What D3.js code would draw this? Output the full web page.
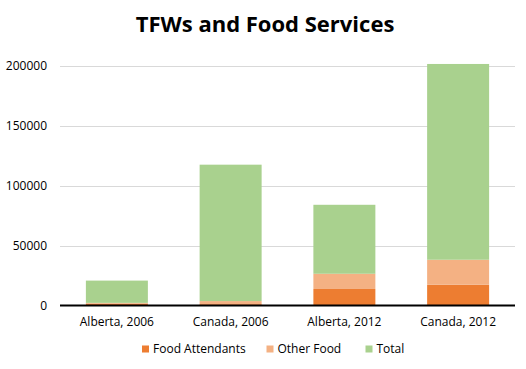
<!DOCTYPE html>
<html lang="en">
<head>
    <meta charset="UTF-8">
    <title>TFWs and Food Services</title>
    <script src="https://d3js.org/d3.v7.min.js"></script>
    <style>
        body {
            margin: 0;
            background: #fff;
        }
        #chart text {
            font-family: 'Open Sans', 'Liberation Sans', sans-serif;
            fill: #000;
        }
    </style>
</head>
<body>
    <svg id="chart" width="526" height="369"></svg>

    <script>
        // data
        const categories = ["Alberta, 2006", "Canada, 2006", "Alberta, 2012", "Canada, 2012"];
        const seriesNames = ["Food Attendants", "Other Food", "Total"];
        const foodAttendants = [1500, 1100, 13800, 17400];
        const otherFood = [700, 2600, 12700, 20800];
        const total = [18600, 113900, 57600, 163500];
        const yTicks = [0, 50000, 100000, 150000, 200000];

        const colors = ["#ed7d31", "#f4b183", "#a9d18e"];

        const svg = d3.select("#chart");
        const margin = {top: 66, right: 11, bottom: 63.5, left: 60};
        const width = 526 - margin.left - margin.right;
        const height = 369 - margin.top - margin.bottom;

        const rows = categories.map((c, i) => ({
            cat: c,
            "Food Attendants": foodAttendants[i],
            "Other Food": otherFood[i],
            "Total": total[i]
        }));
        const stacked = d3.stack().keys(seriesNames)(rows);

        const x = d3.scaleBand().domain(categories).range([0, width]).paddingInner(0.455).paddingOuter(0.2275);
        const y = d3.scaleLinear().domain([0, 200000]).range([height, 0]);

        // title
        svg.append("text")
            .attr("x", 265)
            .attr("y", 32)
            .attr("text-anchor", "middle")
            .style("font-size", "22px")
            .style("font-weight", "bold")
            .text("TFWs and Food Services");

        const g = svg.append("g").attr("transform", `translate(${margin.left},${margin.top})`);

        // gridlines
        g.append("g")
            .selectAll("line")
            .data(yTicks.filter(d => d > 0))
            .join("line")
            .attr("x1", 0).attr("x2", width)
            .attr("y1", d => Math.round(y(d)) + 0.5)
            .attr("y2", d => Math.round(y(d)) + 0.5)
            .attr("stroke", "#d9d9d9")
            .attr("stroke-width", 1);

        // y axis labels
        const yAxis = g.append("g")
            .call(d3.axisLeft(y).tickValues(yTicks).tickSize(0).tickPadding(13).tickFormat(d3.format("d")));
        yAxis.select(".domain").remove();
        yAxis.selectAll("text").style("font-size", "12px");

        // bars
        g.append("g")
            .selectAll("g")
            .data(stacked)
            .join("g")
            .attr("fill", (d, i) => colors[i])
            .selectAll("rect")
            .data(d => d)
            .join("rect")
            .attr("x", d => x(d.data.cat))
            .attr("y", d => y(d[1]))
            .attr("width", x.bandwidth())
            .attr("height", d => y(d[0]) - y(d[1]));

        // baseline
        g.append("line")
            .attr("x1", 0).attr("x2", width)
            .attr("y1", height).attr("y2", height)
            .attr("stroke", "#000")
            .attr("stroke-width", 2);

        // x axis labels
        const xAxis = g.append("g")
            .attr("transform", `translate(0,${height})`)
            .call(d3.axisBottom(x).tickSize(0).tickPadding(12));
        xAxis.select(".domain").remove();
        xAxis.selectAll("text").style("font-size", "12px");

        // legend
        const legendX = [142, 266.5, 365.5];
        const legend = svg.append("g")
            .selectAll("g")
            .data(seriesNames)
            .join("g")
            .attr("transform", (d, i) => `translate(${legendX[i]},349)`);
        legend.append("rect")
            .attr("x", 0).attr("y", -3.5)
            .attr("width", 7).attr("height", 7)
            .attr("fill", (d, i) => colors[i]);
        legend.append("text")
            .attr("x", 11)
            .attr("dy", "0.35em")
            .style("font-size", "12px")
            .text(d => d);
    </script>
</body>
</html>
